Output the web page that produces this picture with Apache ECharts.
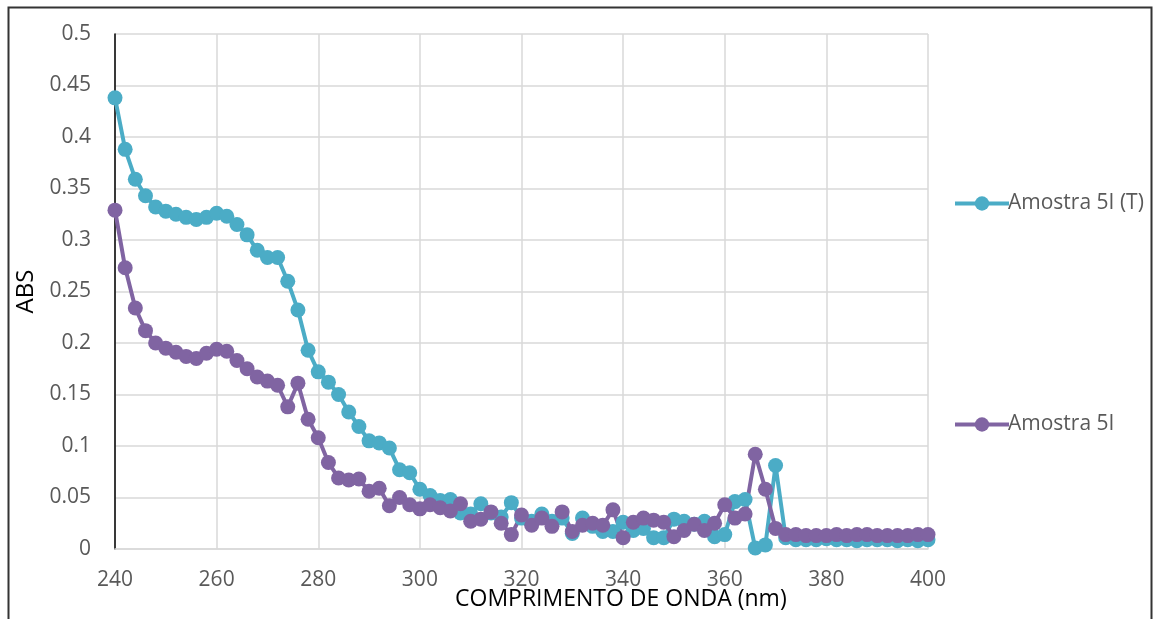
<!DOCTYPE html>
<html>
<head>
<meta charset="utf-8">
<script src="https://cdn.jsdelivr.net/npm/echarts@6/dist/echarts.min.js"></script>
<style>
html,body{margin:0;padding:0;background:#fff;}
#c{width:1155px;height:619px;}
</style>
</head>
<body>
<div id="c"></div>
<script>
// ---- data ----
var wavelengths = [];
for (var w = 240; w <= 400; w += 2) wavelengths.push(w);

var seriesNames = ['Amostra 5I (T)', 'Amostra 5I'];

var amostraT = [
  0.438, 0.388, 0.359, 0.343, 0.332, 0.328, 0.325, 0.322, 0.320, 0.322,
  0.326, 0.323, 0.315, 0.305, 0.290, 0.283, 0.283, 0.260, 0.232, 0.193,
  0.172, 0.162, 0.150, 0.133, 0.119, 0.105, 0.103, 0.098, 0.077, 0.074,
  0.058, 0.052, 0.047, 0.048, 0.035, 0.034, 0.044, 0.035, 0.031, 0.045,
  0.030, 0.027, 0.034, 0.027, 0.030, 0.015, 0.030, 0.022, 0.017, 0.017,
  0.026, 0.018, 0.020, 0.011, 0.011, 0.029, 0.027, 0.024, 0.027, 0.012,
  0.014, 0.046, 0.048, 0.001, 0.004, 0.081, 0.011, 0.009, 0.009, 0.009,
  0.010, 0.009, 0.009, 0.008, 0.009, 0.009, 0.009, 0.008, 0.009, 0.008,
  0.009
];

var amostra = [
  0.329, 0.273, 0.234, 0.212, 0.200, 0.195, 0.191, 0.187, 0.185, 0.190,
  0.194, 0.192, 0.183, 0.175, 0.167, 0.163, 0.159, 0.138, 0.161, 0.126,
  0.108, 0.084, 0.069, 0.067, 0.068, 0.056, 0.059, 0.042, 0.050, 0.043,
  0.039, 0.043, 0.040, 0.037, 0.044, 0.027, 0.029, 0.036, 0.025, 0.014,
  0.033, 0.023, 0.030, 0.022, 0.036, 0.017, 0.023, 0.025, 0.023, 0.038,
  0.011, 0.026, 0.030, 0.028, 0.026, 0.012, 0.018, 0.024, 0.018, 0.025,
  0.043, 0.030, 0.034, 0.092, 0.058, 0.020, 0.014, 0.014, 0.013, 0.013,
  0.013, 0.014, 0.013, 0.014, 0.014, 0.013, 0.013, 0.013, 0.013, 0.014,
  0.014
];

var xTicks = [240, 260, 280, 300, 320, 340, 360, 380, 400];
var yTicks = [0, 0.05, 0.1, 0.15, 0.2, 0.25, 0.3, 0.35, 0.4, 0.45, 0.5];

function pairs(xs, ys) { return xs.map(function (x, i) { return [x, ys[i]]; }); }

var FONT = '"Open Sans", "Liberation Sans", sans-serif';
var chart = echarts.init(document.getElementById('c'), null, { renderer: 'canvas' });

chart.setOption({
  animation: false,
  backgroundColor: '#ffffff',
  grid: { left: 115, right: 227, top: 34, bottom: 70, containLabel: false },
  xAxis: {
    type: 'value',
    min: xTicks[0], max: xTicks[xTicks.length - 1], interval: 20,
    axisLine: { show: true, lineStyle: { color: '#d9d9d9', width: 1.5 } },
    axisTick: { show: false },
    splitLine: { show: true, lineStyle: { color: '#d9d9d9', width: 1.5 } },
    axisLabel: { color: '#595959', fontFamily: FONT, fontSize: 21, margin: 21 }
  },
  yAxis: {
    type: 'value',
    min: yTicks[0], max: yTicks[yTicks.length - 1], interval: 0.05,
    name: 'ABS', nameLocation: 'middle', nameGap: 72, nameRotate: 90,
    nameTextStyle: { color: '#000000', fontFamily: FONT, fontSize: 24 },
    axisLine: { show: true, lineStyle: { color: '#000000', width: 1.5 } },
    axisTick: { show: false },
    splitLine: { show: true, lineStyle: { color: '#d9d9d9', width: 1.5 } },
    axisLabel: {
      color: '#595959', fontFamily: FONT, fontSize: 21, margin: 24,
      formatter: function (v) { return String(Math.round(v * 100) / 100); }
    }
  },
  legend: {
    orient: 'vertical', left: 948, top: 188,
    itemWidth: 54, itemHeight: 18, itemGap: 200,
    lineStyle: { width: 4 },
    textStyle: { color: '#595959', fontFamily: FONT, fontSize: 21, padding: [0, 0, 0, -6] },
    data: seriesNames
  },
  series: [
    {
      name: seriesNames[0], type: 'line', data: pairs(wavelengths, amostraT),
      symbol: 'circle', symbolSize: 15, showAllSymbol: true,
      lineStyle: { color: '#4BACC6', width: 4 },
      itemStyle: { color: '#4BACC6' }
    },
    {
      name: seriesNames[1], type: 'line', data: pairs(wavelengths, amostra),
      symbol: 'circle', symbolSize: 15, showAllSymbol: true,
      lineStyle: { color: '#8064A2', width: 4 },
      itemStyle: { color: '#8064A2' }
    }
  ],
  graphic: [
    {
      type: 'text', left: 455, top: 588, z: 10,
      style: { text: 'COMPRIMENTO DE ONDA (nm)', fill: '#000000', font: '23px ' + FONT }
    },
    {
      type: 'rect', left: 6, top: 5, silent: true, z: 20,
      shape: { x: 0, y: 0, width: 1143, height: 640 },
      style: { fill: 'none', stroke: '#333333', lineWidth: 2 }
    }
  ]
});
</script>
</body>
</html>
